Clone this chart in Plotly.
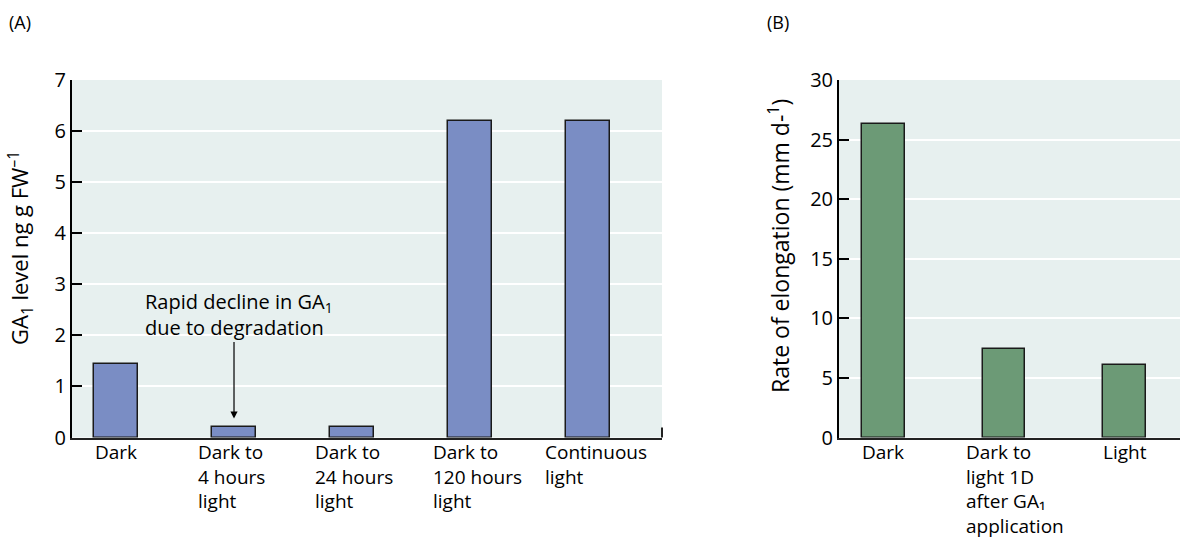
import plotly.graph_objects as go

# ---- data ----
a_categories = ["Dark", "Dark to<br>4 hours<br>light", "Dark to<br>24 hours<br>light",
                "Dark to<br>120 hours<br>light", "Continuous<br>light"]
a_values = [1.43, 0.2, 0.2, 6.2, 6.2]
a_yticks = [0, 1, 2, 3, 4, 5, 6, 7]

b_categories = ["Dark", "Dark to<br>light 1D<br>after GA₁<br>application", "Light"]
b_values = [26.3, 7.4, 6.1]
b_yticks = [0, 5, 10, 15, 20, 25, 30]

W, H = 1180, 538
FONT = "Open Sans"
BG = "#E7F0EF"
A_COLOR = "#7A8DC4"
B_COLOR = "#6C9A76"


def px(x):
    return x / W


def py(y):
    return 1 - y / H


TOP, BOT = 80, 437.5
fig = go.Figure()

a_x = list(range(len(a_categories)))
b_x = list(range(len(b_categories)))

fig.add_trace(go.Bar(x=a_x, y=a_values, xaxis="x", yaxis="y", width=0.373,
                     marker=dict(color=A_COLOR, line=dict(color="#1a1a1a", width=1.5)),
                     showlegend=False))
fig.add_trace(go.Bar(x=b_x, y=b_values, xaxis="x2", yaxis="y2", width=0.355,
                     marker=dict(color=B_COLOR, line=dict(color="#1a1a1a", width=1.5)),
                     showlegend=False))

yaxis_common = dict(ticks="inside", ticklen=10, tickwidth=2, tickcolor="black",
                    showline=True, linecolor="black", linewidth=2, automargin=False,
                    showgrid=True, gridcolor="white", gridwidth=2, zeroline=False,
                    tickfont=dict(family=FONT, size=20, color="black"),
                    domain=[py(BOT), py(TOP)])
xaxis_common = dict(showline=True, linecolor="#222", linewidth=2, showgrid=False,
                    zeroline=False, ticks="", showticklabels=False, automargin=False)

fig.update_layout(
    width=W, height=H,
    margin=dict(l=0, r=0, t=0, b=0, autoexpand=False),
    paper_bgcolor="white", plot_bgcolor=BG,
    font=dict(family=FONT, color="black"),
    xaxis=dict(domain=[px(72), px(662)], range=[-0.373, 4.627], anchor="y", **xaxis_common),
    yaxis=dict(range=[0, 7], tickvals=a_yticks, anchor="x", **yaxis_common),
    xaxis2=dict(domain=[px(839), 1.0], range=[-0.364, 2.455], anchor="y2", **xaxis_common),
    yaxis2=dict(range=[0, 30], tickvals=b_yticks, anchor="x2", **yaxis_common),
    bargap=0,
)

anns = []
LABEL_TOP = 437


def add_cat_labels(xref, cats, xshift_list):
    for i, lab in enumerate(cats):
        multi = "<br>" in lab
        anns.append(dict(xref=xref, yref="paper", x=i, y=py(LABEL_TOP),
                         text=lab, showarrow=False, align="left",
                         xanchor="left" if multi else "center",
                         xshift=xshift_list[i] if multi else 0,
                         yanchor="top",
                         font=dict(family=FONT, size=19, color="black")))


add_cat_labels("x", a_categories, [0, -38, -39, -39, -45])
add_cat_labels("x2", b_categories, [0, -40, 0])

# axis titles
anns.append(dict(xref="paper", yref="paper", x=px(21), y=py(248),
                 text="GA<sub>1</sub> level ng g FW<sup>–1</sup>", textangle=-90,
                 showarrow=False, xanchor="center", yanchor="middle",
                 font=dict(family=FONT, size=22, color="black")))
anns.append(dict(xref="paper", yref="paper", x=px(779), y=py(246),
                 text="Rate of elongation (mm d-<sup>1</sup>)", textangle=-90,
                 showarrow=False, xanchor="center", yanchor="middle",
                 font=dict(family=FONT, size=23, color="black")))

# panel labels
anns.append(dict(xref="paper", yref="paper", x=px(7), y=py(22), text="(A)", showarrow=False,
                 xanchor="left", yanchor="middle", font=dict(family=FONT, size=18, color="black")))
anns.append(dict(xref="paper", yref="paper", x=px(765), y=py(22), text="(B)", showarrow=False,
                 xanchor="left", yanchor="middle", font=dict(family=FONT, size=18, color="black")))

# callout text
anns.append(dict(xref="paper", yref="paper", x=px(143), y=py(286),
                 text="Rapid decline in GA<sub>1</sub><br>due to degradation",
                 showarrow=False, xanchor="left", yanchor="top", align="left",
                 font=dict(family=FONT, size=20, color="black")))
# arrow
anns.append(dict(xref="x", yref="y", x=1, y=0.37, axref="x", ayref="y", ax=1, ay=1.9,
                 text="", showarrow=True, arrowhead=2, arrowsize=1.2, arrowwidth=1.2,
                 arrowcolor="black"))

fig.update_layout(annotations=anns)

# small end tick at right of panel A x-axis
fig.add_shape(type="line", xref="paper", yref="paper", x0=px(662), x1=px(662),
              y0=py(BOT), y1=py(BOT - 10), line=dict(color="#222", width=2))

fig.write_html("out.html", config={"displayModeBar": False},
               post_script="document.body.style.margin='0';document.body.style.overflow='hidden';")
